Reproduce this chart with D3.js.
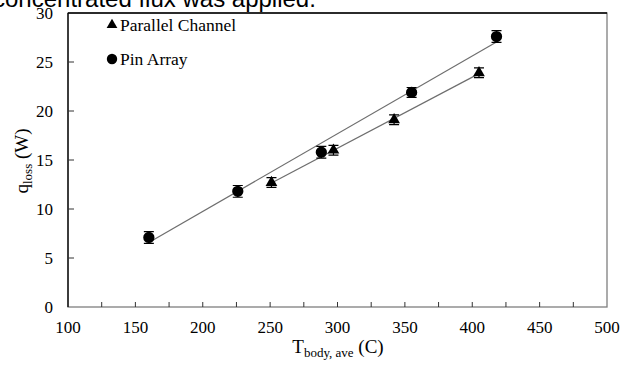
<!DOCTYPE html>
<html>
<head>
<meta charset="utf-8">
<script src="https://cdn.jsdelivr.net/npm/d3@7"></script>
<style>
  body { margin: 0; background: #fff; }
  svg { display: block; }
</style>
</head>
<body>
<svg id="chart" width="626" height="369"></svg>
<script>
// data
const pinTemp = [160, 226, 288, 355, 418]
const pinLoss = [7.1, 11.8, 15.8, 21.9, 27.6]
const pinErr = [0.6, 0.6, 0.6, 0.5, 0.6]

const chanTemp = [251, 297, 342, 405]
const chanLoss = [12.7, 16.0, 19.1, 23.9]
const chanErr = [0.5, 0.5, 0.5, 0.5]

const xTicks = [100, 150, 200, 250, 300, 350, 400, 450, 500]
const yTicks = [0, 5, 10, 15, 20, 25, 30]

const serif = '"Liberation Serif", "DejaVu Serif", "Times New Roman", serif'

const svg = d3.select('#chart')
const margin = { left: 68, right: 19, top: 13, bottom: 62 }
const width = 626 - margin.left - margin.right
const height = 369 - margin.top - margin.bottom

// cut off caption from the page above
svg.append('text')
    .attr('x', -7).attr('y', 7)
    .attr('font-family', '"Liberation Sans", Arial, sans-serif')
    .attr('font-size', 24)
    .text('concentrated flux was applied.')

const x = d3.scaleLinear().domain([100, 500]).range([0, width])
const y = d3.scaleLinear().domain([0, 30]).range([height, 0])

const g = svg.append('g').attr('transform', `translate(${margin.left},${margin.top})`)

// frame
g.append('rect')
    .attr('width', width).attr('height', height)
    .attr('fill', 'none').attr('stroke', '#7f7f7f').attr('stroke-width', 1.3)
g.append('line').attr('x1', 0).attr('x2', 0).attr('y1', 0).attr('y2', height)
    .attr('stroke', '#000').attr('stroke-width', 1.3)
g.append('line').attr('x1', 0).attr('x2', width).attr('y1', 0).attr('y2', 0)
    .attr('stroke', '#000').attr('stroke-width', 1.3)

// x axis ticks (inside, every 25) and labels
const xMinor = d3.range(125, 500, 25)
g.selectAll('.xtick')
    .data(xMinor)
    .join('line')
    .attr('x1', d => x(d)).attr('x2', d => x(d))
    .attr('y1', height).attr('y2', height - 5)
    .attr('stroke', '#333').attr('stroke-width', 1)

g.selectAll('.xlab')
    .data(xTicks)
    .join('text')
    .attr('x', d => x(d))
    .attr('y', height + 26)
    .attr('text-anchor', 'middle')
    .attr('font-family', serif)
    .attr('font-size', 17)
    .text(d => d)

// y axis ticks and labels
g.selectAll('.ytick')
    .data(yTicks.slice(1, -1))
    .join('line')
    .attr('x1', 0).attr('x2', 6)
    .attr('y1', d => y(d)).attr('y2', d => y(d))
    .attr('stroke', '#333').attr('stroke-width', 1)

g.selectAll('.ylab')
    .data(yTicks)
    .join('text')
    .attr('x', -15)
    .attr('y', d => y(d) + 6)
    .attr('text-anchor', 'end')
    .attr('font-family', serif)
    .attr('font-size', 17)
    .text(d => d)

// axis titles
const xTitle = svg.append('text')
    .attr('x', 338).attr('y', 353)
    .attr('text-anchor', 'middle')
    .attr('font-family', serif)
    .attr('font-size', 19)
xTitle.append('tspan').text('T')
xTitle.append('tspan').attr('dy', 4).attr('font-size', 13).text('body, ave')
xTitle.append('tspan').attr('dy', -4).text(' (C)')

const yTitle = svg.append('text')
    .attr('transform', 'translate(28,161) rotate(-90)')
    .attr('text-anchor', 'middle')
    .attr('font-family', serif)
    .attr('font-size', 19)
yTitle.append('tspan').text('q')
yTitle.append('tspan').attr('dy', 4).attr('font-size', 13).text('loss')
yTitle.append('tspan').attr('dy', -4).text(' (W)')

// linear trendlines
function fit(xs, ys) {
    const mx = d3.mean(xs), my = d3.mean(ys)
    const b = d3.sum(xs, (v, i) => (v - mx) * (ys[i] - my)) / d3.sum(xs, v => (v - mx) * (v - mx))
    return { b: b, a: my - b * mx }
}

function drawSeries(xs, ys, errs, symbolType, size) {
    const f = fit(xs, ys)
    const x0 = d3.min(xs), x1 = d3.max(xs)
    g.append('line')
        .attr('x1', x(x0)).attr('y1', y(f.a + f.b * x0))
        .attr('x2', x(x1)).attr('y2', y(f.a + f.b * x1))
        .attr('stroke', '#6e6e6e').attr('stroke-width', 1.2)

    const pts = xs.map((v, i) => ({ x: v, y: ys[i], e: errs[i] }))

    g.selectAll(null)
        .data(pts)
        .join('path')
        .attr('d', d => `M${x(d.x)},${y(d.y + d.e)}V${y(d.y - d.e)}` +
            `M${x(d.x) - 5},${y(d.y + d.e)}H${x(d.x) + 5}` +
            `M${x(d.x) - 5},${y(d.y - d.e)}H${x(d.x) + 5}`)
        .attr('stroke', '#000').attr('stroke-width', 1.2)

    g.selectAll(null)
        .data(pts)
        .join('path')
        .attr('transform', d => `translate(${x(d.x)},${y(d.y)})`)
        .attr('d', d3.symbol().type(symbolType).size(size))
        .attr('fill', '#000')
}

drawSeries(chanTemp, chanLoss, chanErr, d3.symbolTriangle, 60)
drawSeries(pinTemp, pinLoss, pinErr, d3.symbolCircle, 100)

// legend
const legend = [
    { name: 'Parallel Channel', sym: d3.symbolTriangle, size: 50, y: 25 },
    { name: 'Pin Array', sym: d3.symbolCircle, size: 85, y: 59 }
]
const lg = svg.selectAll('.legend')
    .data(legend)
    .join('g')
    .attr('transform', d => `translate(112,${d.y})`)
lg.append('path')
    .attr('d', d => d3.symbol().type(d.sym).size(d.size)())
    .attr('fill', '#000')
lg.append('text')
    .attr('x', 8).attr('y', 6)
    .attr('font-family', serif)
    .attr('font-size', 17.5)
    .text(d => d.name)
</script>
</body>
</html>
